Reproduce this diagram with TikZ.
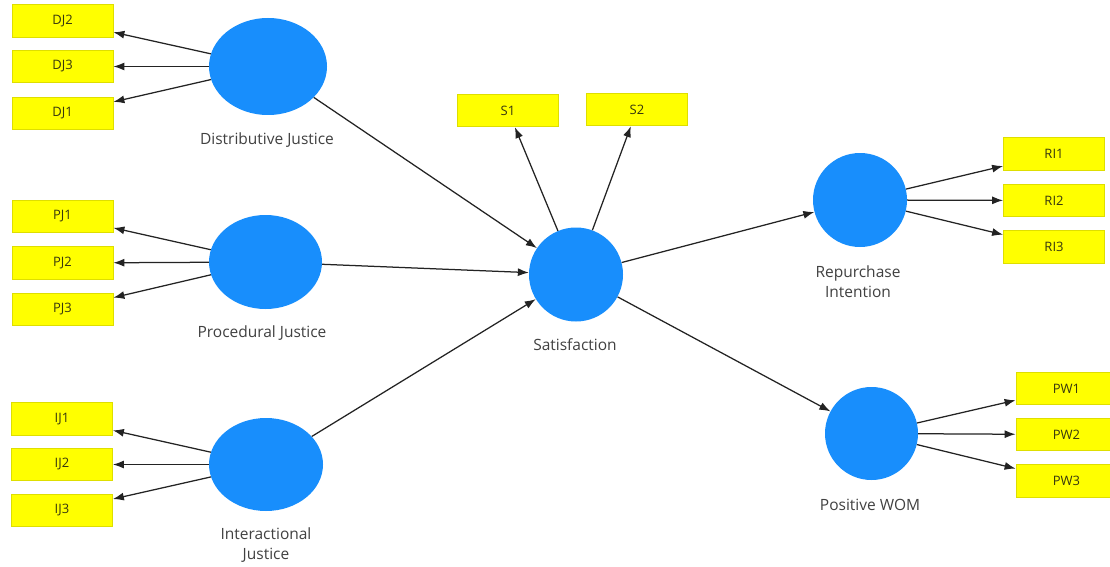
\documentclass[tikz,border=0pt]{standalone}
\usepackage{fontspec}
\setmainfont{Open Sans}
\usetikzlibrary{shapes.geometric,arrows.meta}
\definecolor{lvblue}{RGB}{24,142,252}
\definecolor{mvyellow}{RGB}{255,255,0}
\definecolor{mvborder}{RGB}{222,222,0}
\definecolor{mvtext}{RGB}{55,55,15}
\definecolor{lbltext}{RGB}{65,65,65}
\definecolor{linkcol}{RGB}{35,35,35}
\tikzset{
  latent/.style={ellipse,fill=lvblue,draw=none,inner sep=0pt},
  manifest/.style={rectangle,fill=mvyellow,draw=mvborder,line width=0.8pt,minimum width=101pt,minimum height=32.5pt,inner sep=0pt,text=mvtext,font=\fontsize{13}{14}\selectfont},
  lbl/.style={text=lbltext,font=\fontsize{15.5}{20}\selectfont,align=center,inner sep=0pt},
  link/.style={draw=linkcol,line width=1.25pt,-{Latex[length=11pt,width=8pt]}}
}
\begin{document}
\begin{tikzpicture}[x=1pt,y=-1pt]
\useasboundingbox (0,0) rectangle (1110,567);
\fill[white] (0,0) rectangle (1110,567);
\clip (0,0) rectangle (1110,567);
% latent variables
\node[latent,minimum width=118pt,minimum height=97pt] (DJ) at (268,66.5) {};
\node[latent,minimum width=113pt,minimum height=94pt] (PJ) at (265.5,262) {};
\node[latent,minimum width=114pt,minimum height=93pt] (IJ) at (266,464.5) {};
\node[latent,minimum width=94pt,minimum height=94pt] (SAT) at (576,274.5) {};
\node[latent,minimum width=94pt,minimum height=94pt] (RI) at (860,200) {};
\node[latent,minimum width=93pt,minimum height=93pt] (PW) at (871.5,433.5) {};
% labels
\node[lbl] (lDJ) at (267,140) {Distributive Justice};
\node[lbl] (lPJ) at (262,333) {Procedural Justice};
\node[lbl] (lIJ) at (266,545) {Interactional\\Justice};
\node[lbl] (lSAT) at (575,345) {Satisfaction};
\node[lbl] (lRI) at (858,282) {Repurchase\\Intention};
\node[lbl] (lPW) at (870,505) {Positive WOM};
% indicators
\node[manifest] (DJ2) at (62.5,21) {DJ2};
\node[manifest] (DJ3) at (62.5,66.5) {DJ3};
\node[manifest] (DJ1) at (62.5,113.5) {DJ1};
\node[manifest] (PJ1) at (62.5,216.5) {PJ1};
\node[manifest] (PJ2) at (62.5,263) {PJ2};
\node[manifest] (PJ3) at (62.5,309.5) {PJ3};
\node[manifest] (IJ1) at (62,419) {IJ1};
\node[manifest] (IJ2) at (62,464.5) {IJ2};
\node[manifest] (IJ3) at (62,510.5) {IJ3};
\node[manifest] (S1) at (508,110.5) {S1};
\node[manifest] (S2) at (637,109.5) {S2};
\node[manifest] (RI1) at (1054,154) {RI1};
\node[manifest] (RI2) at (1054,200.5) {RI2};
\node[manifest] (RI3) at (1054,247) {RI3};
\node[manifest] (PW1) at (1066.5,388.5) {PW1};
\node[manifest] (PW2) at (1066.5,434.5) {PW2};
\node[manifest] (PW3) at (1066.5,481) {PW3};
% outer model
\foreach \a/\b in {DJ/DJ2,DJ/DJ3,DJ/DJ1,PJ/PJ1,PJ/PJ2,PJ/PJ3,IJ/IJ1,IJ/IJ2,IJ/IJ3,SAT/S1,SAT/S2,RI/RI1,RI/RI2,RI/RI3,PW/PW1,PW/PW2,PW/PW3}
  \draw[link] (\a) -- (\b);
% inner model
\foreach \a/\b in {DJ/SAT,PJ/SAT,IJ/SAT,SAT/RI,SAT/PW}
  \draw[link] (\a) -- (\b);
\end{tikzpicture}
\end{document}
